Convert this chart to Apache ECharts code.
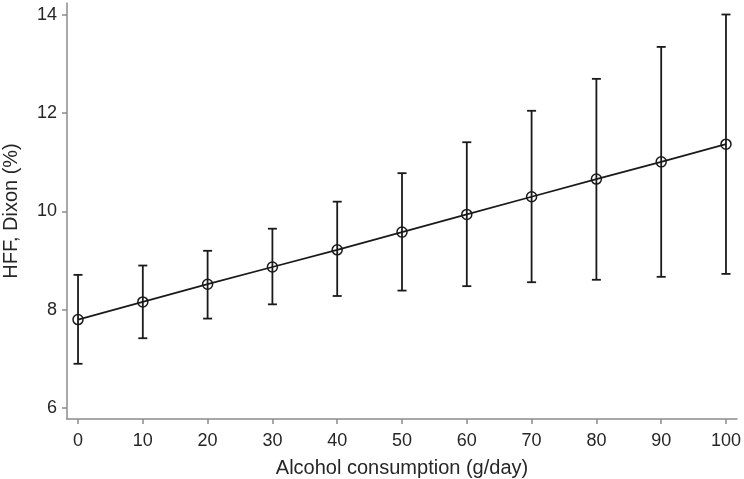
<!DOCTYPE html>
<html>
<head>
<meta charset="utf-8">
<script src="https://cdn.jsdelivr.net/npm/echarts@6/dist/echarts.min.js"></script>
<style>html,body{margin:0;padding:0;background:#fff;}#c{width:744px;height:479px;}</style>
</head>
<body>
<div id="c"></div>
<script>
const alcohol = [0, 10, 20, 30, 40, 50, 60, 70, 80, 90, 100];
const hff = [7.80, 8.16, 8.52, 8.87, 9.22, 9.58, 9.94, 10.30, 10.66, 11.01, 11.37];
const ciLow = [6.90, 7.42, 7.82, 8.11, 8.28, 8.39, 8.48, 8.56, 8.61, 8.67, 8.73];
const ciHigh = [8.71, 8.90, 9.20, 9.65, 10.20, 10.78, 11.41, 12.05, 12.70, 13.35, 14.01];
const xTicks = [0, 10, 20, 30, 40, 50, 60, 70, 80, 90, 100];
const yTicks = [6, 8, 10, 12, 14];

const chart = echarts.init(document.getElementById('c'));
const font = 'Liberation Sans, Arial, sans-serif';
const axisCol = '#8c8c8c';
const textCol = '#262626';

chart.setOption({
  animation: false,
  backgroundColor: '#fff',
  grid: { left: 67, right: 7, top: 3, bottom: 60, containLabel: false, outerBoundsMode: 'none' },
  xAxis: {
    type: 'value', min: -1.7, max: 101.7,
    name: 'Alcohol consumption (g/day)', nameLocation: 'middle', nameGap: 39,
    nameTextStyle: { fontFamily: font, fontSize: 20, color: textCol },
    axisLine: { show: true, onZero: false, lineStyle: { color: axisCol, width: 1.5 } },
    axisTick: { show: true, customValues: xTicks, length: 5, lineStyle: { color: axisCol, width: 1.5 } },
    axisLabel: { customValues: xTicks, margin: 13, fontFamily: font, fontSize: 18, color: textCol },
    splitLine: { show: false }
  },
  yAxis: {
    type: 'value', min: 5.776, max: 14.244,
    name: 'HFF, Dixon (%)', nameLocation: 'middle', nameGap: 46, nameRotate: 90,
    nameTextStyle: { fontFamily: font, fontSize: 20, color: textCol },
    axisLine: { show: true, onZero: false, lineStyle: { color: axisCol, width: 1.5 } },
    axisTick: { show: true, customValues: yTicks, length: 5, lineStyle: { color: axisCol, width: 1.5 } },
    axisLabel: { customValues: yTicks, margin: 10, fontFamily: font, fontSize: 18, color: textCol },
    splitLine: { show: false }
  },
  series: [
    {
      type: 'custom',
      data: alcohol.map((x, i) => [x, ciLow[i], ciHigh[i]]),
      renderItem: function (params, api) {
        const lo = api.coord([api.value(0), api.value(1)]);
        const hi = api.coord([api.value(0), api.value(2)]);
        const hw = 4.5;
        const st = { stroke: '#1a1a1a', lineWidth: 1.8 };
        return {
          type: 'group',
          children: [
            { type: 'line', shape: { x1: lo[0], y1: lo[1], x2: hi[0], y2: hi[1] }, style: st },
            { type: 'line', shape: { x1: lo[0] - hw, y1: lo[1], x2: lo[0] + hw, y2: lo[1] }, style: st },
            { type: 'line', shape: { x1: hi[0] - hw, y1: hi[1], x2: hi[0] + hw, y2: hi[1] }, style: st }
          ]
        };
      },
      z: 2
    },
    {
      type: 'line',
      data: alcohol.map((x, i) => [x, hff[i]]),
      symbol: 'circle', symbolSize: 10,
      lineStyle: { color: '#1a1a1a', width: 1.8 },
      itemStyle: { color: 'rgba(0,0,0,0)', borderColor: '#1a1a1a', borderWidth: 1.5 },
      z: 3
    }
  ]
});
</script>
</body>
</html>
